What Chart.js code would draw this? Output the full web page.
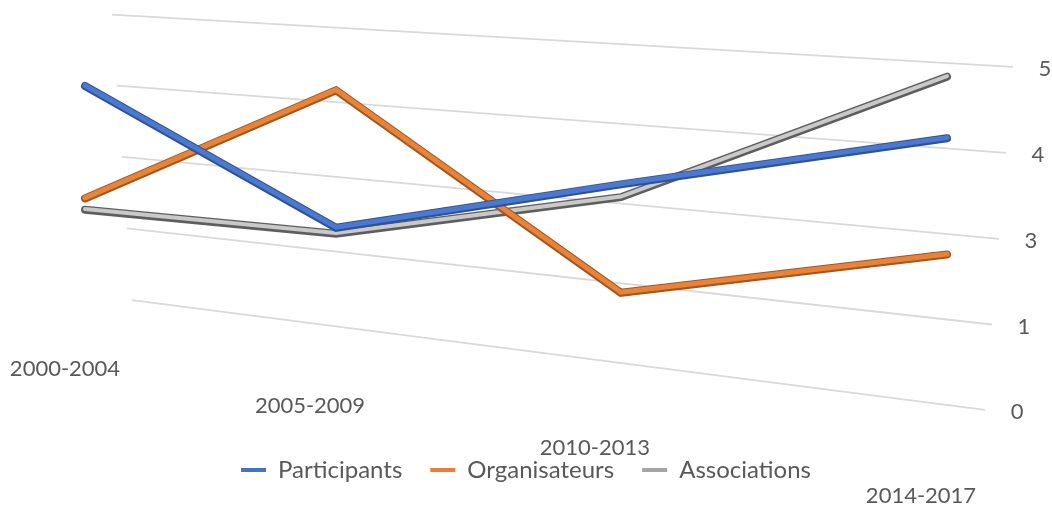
<!DOCTYPE html>
<html>
<head>
<meta charset="utf-8">
<script src="https://cdn.jsdelivr.net/npm/chart.js@4.4.1/dist/chart.umd.min.js"></script>
<style>
    html, body { margin: 0; padding: 0; background: #fff; }
    #wrap { width: 1052px; height: 506px; }
</style>
</head>
<body>
<div id="wrap"><canvas id="chart"></canvas></div>
<script>
// periods on the category axis
const periods = ['2000-2004', '2005-2009', '2010-2013', '2014-2017']
// series, read against the back wall gridlines
const participants = [3.7, 1.65, 2.8, 3.9]
const organisateurs = [1.7, 3.95, 1.1, 2.2]
const associations = [1.5, 1.55, 2.6, 4.8]
// value axis 0..5 step 1.25, labels rounded like Excel's "0" format
const yTicks = [0, 1.25, 2.5, 3.75, 5]
const yTickLabels = ['0', '1', '3', '4', '5']

const textColor = '#595959'
const gridColor = '#d9d9d9'
// ribbon look: dark edge, lighter body; legend keeps the plain colour
const legendColors = ['#4472c4', '#ed7d31', '#a5a5a5']
const edgeColors = ['#2f5296', '#a4561e', '#5e5e5e']
const bodyColors = ['#4a79cf', '#e8843a', '#c9c9c9']
const bodyWidths = [5, 5, 4]

// the tilted plot plane: where (first period, 0), (last period, 0),
// (last period, 5) and (first period, 5) end up on screen
const corners = { bl: [85, 294], br: [947, 405], tr: [947, 63], tl: [85, 13] }
// back wall extent in period index [at top, at bottom]
const wallLeft = [0.114, 0.197]
const wallRight = [3.186, 3.108]

function makeProjection(c) {
    const [x0, y0] = c.bl, [x1, y1] = c.br, [x2, y2] = c.tr, [x3, y3] = c.tl
    const dx1 = x1 - x2, dx2 = x3 - x2, dx3 = x0 - x1 + x2 - x3
    const dy1 = y1 - y2, dy2 = y3 - y2, dy3 = y0 - y1 + y2 - y3
    const den = dx1 * dy2 - dx2 * dy1
    const g = (dx3 * dy2 - dx2 * dy3) / den
    const h = (dx1 * dy3 - dx3 * dy1) / den
    const a = x1 - x0 + g * x1, b = x3 - x0 + h * x3
    const d = y1 - y0 + g * y1, e = y3 - y0 + h * y3
    return (u, v) => {
        const w = g * u + h * v + 1
        return [(a * u + b * v + x0) / w, (d * u + e * v + y0) / w]
    }
}
const project = makeProjection(corners)

// turns scale pixels into plane coordinates u (periods) and v (values)
function planeOf(chart) {
    const xs = chart.scales.x, ys = chart.scales.y
    const xa = xs.getPixelForValue(0), xb = xs.getPixelForValue(periods.length - 1)
    const ya = ys.getPixelForValue(yTicks[0]), yb = ys.getPixelForValue(yTicks[yTicks.length - 1])
    return {
        u: px => (px - xa) / (xb - xa),
        v: py => (ya - py) / (ya - yb)
    }
}
// period index (may be fractional) -> u
const uOfIndex = i => i / (periods.length - 1)

const tilt = {
    id: 'tilt',
    afterDatasetsUpdate(chart) {
        const plane = planeOf(chart)
        chart.data.datasets.forEach((ds, i) => {
            chart.getDatasetMeta(i).data.forEach(pt => {
                const p = project(plane.u(pt.x), plane.v(pt.y))
                pt.x = p[0]
                pt.y = p[1]
            })
        })
    },
    beforeDatasetsDraw(chart) {
        const ctx = chart.ctx
        const xs = chart.scales.x, ys = chart.scales.y
        const plane = planeOf(chart)
        ctx.save()
        ctx.fillStyle = textColor
        ctx.textBaseline = 'middle'
        ctx.textAlign = 'center'
        ctx.font = '22px Lato'

        // gridlines on the back wall plus their labels at the right
        ys.ticks.forEach(tick => {
            const v = plane.v(ys.getPixelForValue(tick.value))
            const iL = wallLeft[1] + (wallLeft[0] - wallLeft[1]) * v
            const iR = wallRight[1] + (wallRight[0] - wallRight[1]) * v
            const p1 = project(uOfIndex(iL), v)
            const p2 = project(uOfIndex(iR), v)
            ctx.strokeStyle = gridColor
            ctx.lineWidth = 1.8
            ctx.beginPath()
            ctx.moveTo(p1[0], p1[1])
            ctx.lineTo(p2[0], p2[1])
            ctx.stroke()
            ctx.fillText(String(tick.label), p2[0] + 32, p2[1] + 2)
        })

        // period labels along the front of the floor
        xs.getLabels().forEach((lab, i) => {
            const p = project(uOfIndex(i), -0.265)
            ctx.fillText(lab, p[0] - 26 + (i === 0 ? 6 : 0), p[1])
        })
        ctx.restore()
    },
    afterDatasetDraw(chart, args) {
        // lighter body over the dark edge, like Excel's 3D ribbons
        const ctx = chart.ctx
        const line = args.meta.dataset
        ctx.save()
        ctx.strokeStyle = bodyColors[args.index]
        ctx.lineWidth = bodyWidths[args.index]
        ctx.lineCap = 'round'
        ctx.lineJoin = 'miter'
        ctx.translate(0, -0.6)
        ctx.beginPath()
        line.path(ctx)
        ctx.stroke()
        ctx.restore()
    }
}

Chart.defaults.font.family = 'Lato'
Chart.defaults.color = textColor

const canvas = document.getElementById('chart')
const myChart = new Chart(canvas, {
    type: 'line',
    data: {
        labels: periods,
        datasets: [
            { label: 'Participants', data: participants, borderColor: edgeColors[0], backgroundColor: legendColors[0] },
            { label: 'Organisateurs', data: organisateurs, borderColor: edgeColors[1], backgroundColor: legendColors[1] },
            { label: 'Associations', data: associations, borderColor: edgeColors[2], backgroundColor: legendColors[2] }
        ]
    },
    options: {
        responsive: true,
        maintainAspectRatio: false,
        animation: false,
        events: [],
        layout: { padding: { bottom: 14 } },
        datasets: {
            line: {
                borderWidth: 8,
                pointRadius: 0,
                tension: 0,
                clip: false,
                borderCapStyle: 'round',
                borderJoinStyle: 'miter'
            }
        },
        scales: {
            x: { display: false, offset: false },
            y: {
                display: false,
                min: 0,
                max: 5,
                ticks: {
                    stepSize: 1.25,
                    callback: (value, index) => yTickLabels[index]
                }
            }
        },
        plugins: {
            tooltip: { enabled: false },
            legend: {
                position: 'bottom',
                labels: {
                    boxWidth: 25,
                    boxHeight: 4,
                    padding: 28,
                    color: textColor,
                    font: { size: 24, family: 'Lato' },
                    generateLabels: chart => Chart.defaults.plugins.legend.labels.generateLabels(chart)
                        .map((item, i) => Object.assign(item, { lineWidth: 0, fillStyle: legendColors[i] }))
                }
            }
        }
    },
    plugins: [tilt]
})
</script>
</body>
</html>
